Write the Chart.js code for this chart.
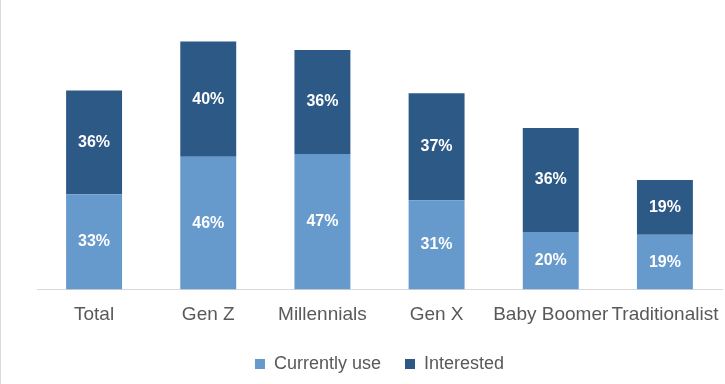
<!DOCTYPE html>
<html>
<head>
<meta charset="utf-8">
<script src="https://cdn.jsdelivr.net/npm/chart.js@4"></script>
<style>
  html, body { margin: 0; padding: 0; background: #fff; }
  #wrap { width: 725px; height: 384px; position: relative; box-sizing: border-box; border-left: 1px solid #d9d9d9; }
</style>
</head>
<body>
<div id="wrap"><canvas id="chart"></canvas></div>
<script>
const categories = ['Total', 'Gen Z', 'Millennials', 'Gen X', 'Baby Boomer', 'Traditionalist']
const currentlyUse = [33, 46, 47, 31, 20, 19]
const interested = [36, 40, 36, 37, 36, 19]

// white % labels centred in each segment
const barLabels = {
  id: 'barLabels',
  afterDatasetsDraw(chart) {
    const ctx = chart.ctx
    ctx.save()
    ctx.fillStyle = '#ffffff'
    ctx.font = 'bold 16px "Liberation Sans", Arial, sans-serif'
    ctx.textAlign = 'center'
    ctx.textBaseline = 'middle'
    chart.data.datasets.forEach((ds, i) => {
      chart.getDatasetMeta(i).data.forEach((bar, j) => {
        const y = (bar.y + bar.base) / 2
        ctx.fillText(ds.data[j] + '%', bar.x, y)
      })
    })
    ctx.restore()
  }
}

new Chart(document.getElementById('chart'), {
  type: 'bar',
  data: {
    labels: categories,
    datasets: [
      {
        label: 'Currently use',
        data: currentlyUse,
        backgroundColor: '#6699cc',
        barPercentage: 0.49,
        categoryPercentage: 1
      },
      {
        label: 'Interested',
        data: interested,
        backgroundColor: '#2d5987',
        barPercentage: 0.49,
        categoryPercentage: 1
      }
    ]
  },
  options: {
    responsive: true,
    maintainAspectRatio: false,
    animation: false,
    layout: { padding: { left: 36, right: 3, top: 1, bottom: 1 } },
    plugins: {
      legend: {
        position: 'bottom',
        labels: {
          boxWidth: 10,
          boxHeight: 10,
          padding: 24,
          color: '#595959',
          font: { family: '"Liberation Sans", Arial, sans-serif', size: 18 }
        }
      },
      tooltip: { enabled: false }
    },
    scales: {
      x: {
        stacked: true,
        grid: { display: false },
        border: { color: '#d9d9d9', width: 1 },
        ticks: {
          color: '#595959',
          padding: 1.5,
          maxRotation: 0,
          autoSkip: false,
          font: { family: '"Liberation Sans", Arial, sans-serif', size: 19, lineHeight: 1.6 }
        }
      },
      y: {
        stacked: true,
        display: false,
        min: 0,
        max: 100
      }
    }
  },
  plugins: [barLabels]
})
</script>
</body>
</html>
